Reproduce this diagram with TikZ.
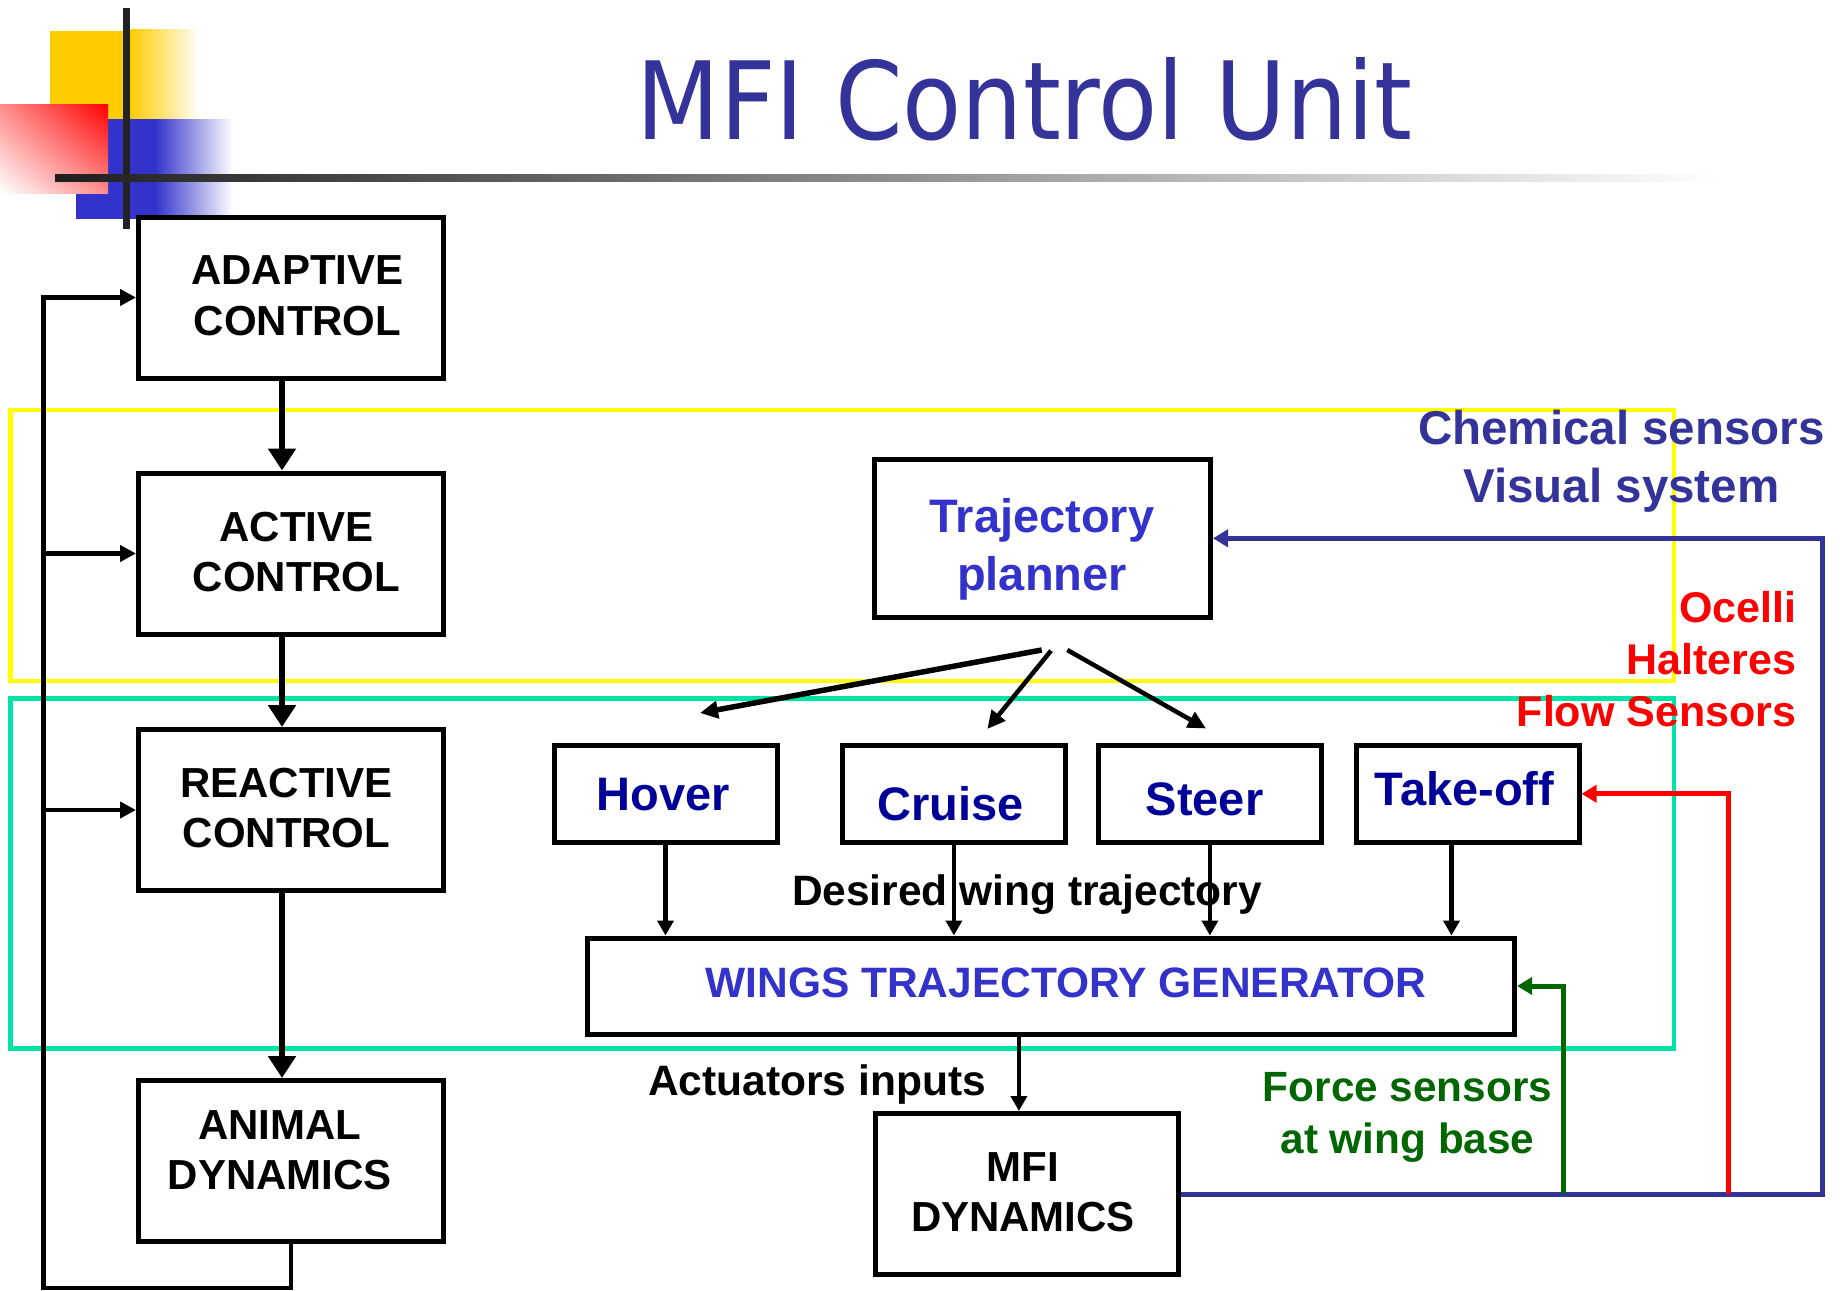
\documentclass[tikz,border=0pt]{standalone}
\usepackage{fontspec}
\setmainfont{Liberation Sans}
\newfontfamily\titlefont[FakeStretch=0.895]{DejaVu Sans}
\usetikzlibrary{arrows.meta,calc,shadings}

\definecolor{titleblue}{HTML}{333399}
\definecolor{planblue}{HTML}{3333CC}
\definecolor{modeblue}{HTML}{000099}
\definecolor{sensorblue}{HTML}{333399}
\definecolor{flowred}{HTML}{FF0000}
\definecolor{forcegreen}{HTML}{006600}
\definecolor{layeryellow}{HTML}{FFFF00}
\definecolor{layermint}{HTML}{00E3A6}
\definecolor{decoyellow}{HTML}{FFCC00}
\definecolor{decoblue}{HTML}{3333CC}
\definecolor{decobar}{HTML}{222222}

\begin{document}
\begin{tikzpicture}[x=1pt,y=-1pt,
  box/.style={draw=black, line width=5pt, fill=white, inner sep=0pt},
  leftbox/.style={box, minimum width=305pt, minimum height=161pt},
  modebox/.style={box, minimum width=223pt, minimum height=96.4pt},
  boxtxt/.style={inner sep=0pt, align=center, font=\fontsize{42}{50.5}\selectfont\bfseries},
  modetxt/.style={inner sep=0pt, anchor=base, text=modeblue, font=\fontsize{47}{56}\selectfont\bfseries},
  plaintxt/.style={inner sep=0pt, anchor=base, font=\fontsize{42.5}{51}\selectfont\bfseries},
  layer/.style={line width=4.5pt},
  thickarrow/.style={line width=6.5pt, -{Triangle[width=27pt,length=22pt]}},
  fbline/.style={line width=4.5pt, -{Triangle[width=16pt,length=16pt]}},
  darrow/.style={line width=4.5pt, -{Triangle[width=16pt,length=15pt]}},
  splitarrow/.style={line width=4.5pt, -{Triangle[width=17pt,length=18pt]}},
  sensline/.style={line width=5pt, -{Triangle[width=17pt,length=15pt]}}
]
\useasboundingbox (0,0) rectangle (1841,1290);
\fill[white] (0,0) rectangle (1841,1290);

% corner ornament of the slide
\fill[decoyellow] (50,31) rectangle (130,119);
\shade[left color=decoyellow, right color=white] (130,30) rectangle (200,119);
\fill[decoblue] (76,119) rectangle (155,219);
\shade[left color=decoblue, right color=white] (155,119) rectangle (233,219);
\shade[upper right=flowred, lower left=white, upper left=flowred!45, lower right=flowred!45]
  (0,104) rectangle (108,193);
\fill[decobar] (123,8) rectangle (130,229);
\shade[left color=black!88, right color=white] (55,174) rectangle (1720,181);

% title
\node[inner sep=0pt, anchor=base, text=titleblue, font=\titlefont\fontsize{108}{120}\selectfont]
  (title) at (1024.5,139) {MFI Control Unit};

% control layers
\draw[layer, draw=layeryellow] (10.5,410) rectangle (1674,681);
\draw[layer, draw=layermint] (10.5,698.6) rectangle (1674,1048.5);

% hierarchy on the left
\node[leftbox] (adaptive) at (291,297.5) {};
\node[leftbox] (active)   at (291,553.5) {};
\node[leftbox] (reactive) at (291,810) {};
\node[leftbox] (animal)   at (291,1161) {};
\node[boxtxt] (adaptivetxt) at (297.5,296) {ADAPTIVE\\CONTROL};
\node[boxtxt] (activetxt)   at (296.5,552) {ACTIVE\\CONTROL};
\node[boxtxt] (reactivetxt) at (286.5,808) {REACTIVE\\CONTROL};
\node[boxtxt] (animaltxt)   at (280,1150) {ANIMAL\\DYNAMICS};

\draw[thickarrow] ($(adaptive.south)+(-9,0)$) -- ($(active.north)+(-9,0)$);
\draw[thickarrow] ($(active.south)+(-9,0)$) -- ($(reactive.north)+(-9,0)$);
\draw[thickarrow] ($(reactive.south)+(-9,0)$) -- ($(animal.north)+(-9,0)$);

\coordinate (fbl) at (43.5,1288);
\draw[fbline] (animal.south) |- (fbl) |- (adaptive.west);
\draw[fbline] (active.west -| fbl) -- (active.west);
\draw[fbline] (reactive.west -| fbl) -- (reactive.west);

% trajectory planning
\node[box, minimum width=335.8pt, minimum height=158.6pt] (tp) at (1042.6,538.3) {};
\node[inner sep=0pt, align=center, text=planblue, font=\fontsize{47}{58}\selectfont\bfseries]
  (tptxt) at (1042,549) {Trajectory\\planner};

\node[modebox] (hover)   at (665.5,793.8) {};
\node[modebox] (cruise)  at (953.9,793.8) {};
\node[modebox] (steer)   at (1209.9,793.8) {};
\node[modebox] (takeoff) at (1467.5,793.8) {};
\node[modetxt] (hovertxt)   at (663.4,810) {Hover};
\node[modetxt] (cruisetxt)  at (950.5,820) {Cruise};
\node[modetxt] (steertxt)   at (1204.6,815) {Steer};
\node[modetxt] (takeofftxt) at (1464.5,805) {Take-off};

\coordinate (s1) at (1041.7,650);
\coordinate (t1) at (700,713);
\coordinate (s2) at (1051,650.7);
\coordinate (t2) at (987.3,729);
\coordinate (s3) at (1067.3,650);
\coordinate (t3) at (1206,728.5);
\draw[splitarrow, line width=5.5pt] (s1) -- (t1);
\draw[splitarrow] (s2) -- (t2);
\draw[splitarrow] (s3) -- (t3);

\node[box, minimum width=927.6pt, minimum height=96pt] (wtg) at (1050.8,986) {};
\node[plaintxt, text=planblue] (wtgtxt) at (1066,997) {WINGS TRAJECTORY GENERATOR};

\draw[darrow] (hover.south) -- (hover.south |- wtg.north);
\draw[darrow] (cruise.south) -- (cruise.south |- wtg.north);
\draw[darrow] (steer.south) -- (steer.south |- wtg.north);
\coordinate (tko) at ($(takeoff.south)+(-16,0)$);
\draw[darrow] (tko) -- (tko |- wtg.north);

\node[plaintxt] (desired) at (1027,905) {Desired wing trajectory};

% vehicle
\node[box, minimum width=303.8pt, minimum height=161pt] (mfi) at (1026.9,1194) {};
\node[boxtxt] (mfitxt) at (1023,1192) {MFI\\DYNAMICS};
\coordinate (mfiin) at ($(mfi.north)+(-8,0)$);
\draw[darrow] (mfiin |- wtg.south) -- (mfiin);
\node[plaintxt] (actuators) at (817,1095.7) {Actuators inputs};

% sensory feedback
\coordinate (bcorner) at (1822,1194);
\coordinate (rbase) at (1728,1194);
\coordinate (gbase) at (1563,1194);
\draw[sensline, draw=sensorblue] (mfi.east) -- (bcorner) |- (tp.east);
\draw[sensline, draw=flowred] (rbase) |- (takeoff.east);
\draw[sensline, draw=forcegreen] (gbase) |- (wtg.east);

\node[inner sep=0pt, align=center, text=sensorblue, font=\fontsize{47.5}{58}\selectfont\bfseries]
  (chem) at (1621.5,461.5) {Chemical sensors\\Visual system};
\node[inner sep=0pt, anchor=east, align=right, text=flowred, font=\fontsize{43}{52}\selectfont\bfseries]
  (ocelli) at (1796.5,659) {Ocelli\\Halteres\\Flow Sensors};
\node[inner sep=0pt, align=center, text=forcegreen, font=\fontsize{42.3}{51.5}\selectfont\bfseries]
  (force) at (1407.5,1117.5) {Force sensors\\at wing base};
\end{tikzpicture}
\end{document}
